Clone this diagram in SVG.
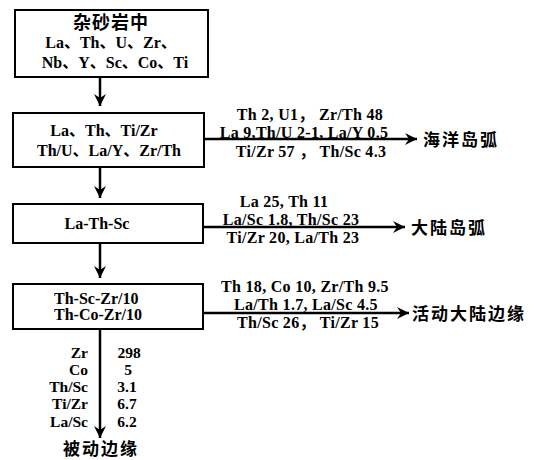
<svg xmlns="http://www.w3.org/2000/svg" width="540" height="460" viewBox="0 0 540 460">
<style>
.box{fill:#fff;stroke:#000;stroke-width:2}
.t{font-family:"Liberation Serif","Noto Sans CJK SC",serif;font-weight:bold;font-size:16px;fill:#000}
.s{font-size:16px;letter-spacing:0.3px}
.v{font-size:15.5px}
.c{font-family:"Noto Sans CJK SC",sans-serif;font-weight:bold;font-size:17px;fill:#000;letter-spacing:2px}
.m{text-anchor:middle}
.e{text-anchor:end}
.ln{stroke:#000;stroke-width:2.5;fill:none}
</style>
<defs>
<marker id="ah" markerUnits="userSpaceOnUse" markerWidth="14" markerHeight="14" refX="13" refY="7" orient="auto">
<path d="M1,1 L13,7 L1,13 L5,7 z" fill="#000"/>
</marker>
</defs>
<rect width="540" height="460" fill="#fff"/>
<g id="connectors">
<line class="ln" x1="100" y1="78" x2="100" y2="106" marker-end="url(#ah)"/>
<line class="ln" x1="100" y1="168" x2="100" y2="198" marker-end="url(#ah)"/>
<line class="ln" x1="100" y1="243" x2="100" y2="278" marker-end="url(#ah)"/>
<line class="ln" x1="100" y1="329" x2="100" y2="438" marker-end="url(#ah)"/>
<line class="ln" x1="204" y1="139" x2="417" y2="139" marker-end="url(#ah)"/>
<line class="ln" x1="203" y1="227" x2="405" y2="227" marker-end="url(#ah)"/>
<line class="ln" x1="203" y1="313" x2="409" y2="313" marker-end="url(#ah)"/>
</g>
<g id="n1">
<rect class="box" x="15" y="10" width="193" height="67"/>
<text class="c m" x="111" y="29" style="font-size:18px;letter-spacing:1px">杂砂岩中</text>
<text class="t m" x="111" y="48">La、Th、U、Zr、</text>
<text class="t m" x="115" y="68">Nb、Y、Sc、Co、Ti</text>
</g>
<g id="n2">
<rect class="box" x="13" y="113" width="191" height="54"/>
<text class="t m" x="104" y="136">La、Th、Ti/Zr</text>
<text class="t m" x="109" y="156">Th/U、La/Y、Zr/Th</text>
</g>
<g id="n3">
<rect class="box" x="13" y="204" width="190" height="39"/>
<text class="t m" x="97" y="229">La-Th-Sc</text>
</g>
<g id="n4">
<rect class="box" x="13" y="284" width="190" height="45"/>
<text class="t" x="54" y="304">Th-Sc-Zr/10</text>
<text class="t" x="54" y="320">Th-Co-Zr/10</text>
</g>
<g id="l1">
<text class="t s m" x="310" y="120">Th 2, U1， Zr/Th 48</text>
<text class="t s m" x="304" y="138">La 9,Th/U 2-1, La/Y 0.5</text>
<text class="t s m" x="311" y="157">Ti/Zr 57 ， Th/Sc 4.3</text>
<text class="c" x="423" y="146">海洋岛弧</text>
</g>
<g id="l2">
<text class="t s m" x="284" y="207">La 25, Th 11</text>
<text class="t s m" x="291" y="225">La/Sc 1.8, Th/Sc 23</text>
<text class="t s m" x="293" y="243">Ti/Zr 20, La/Th 23</text>
<text class="c" x="411" y="234">大陆岛弧</text>
</g>
<g id="l3">
<text class="t s m" x="305" y="292">Th 18, Co 10, Zr/Th 9.5</text>
<text class="t s m" x="306" y="310">La/Th 1.7, La/Sc 4.5</text>
<text class="t s m" x="308" y="328">Th/Sc 26， Ti/Zr 15</text>
<text class="c" x="412" y="320">活动大陆边缘</text>
</g>
<g id="l4">
<text class="t v e" x="88" y="358">Zr</text>
<text class="t v e" x="88" y="375">Co</text>
<text class="t v e" x="88" y="392">Th/Sc</text>
<text class="t v e" x="88" y="409">Ti/Zr</text>
<text class="t v e" x="88" y="427">La/Sc</text>
<text class="t v m" x="129" y="358">298</text>
<text class="t v m" x="128" y="375">5</text>
<text class="t v m" x="127" y="392">3.1</text>
<text class="t v m" x="127" y="409">6.7</text>
<text class="t v m" x="127" y="427">6.2</text>
<text class="c m" x="101" y="455">被动边缘</text>
</g>
</svg>
